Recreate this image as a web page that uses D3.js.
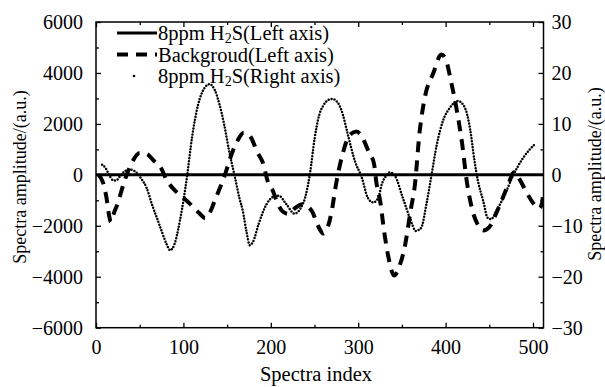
<!DOCTYPE html>
<html>
<head>
<meta charset="utf-8">
<script src="https://cdn.jsdelivr.net/npm/d3@7"></script>
<style>
  body { margin: 0; background: #fff; }
  svg text { font-family: "Liberation Serif", "Times New Roman", serif; fill: #000; }
</style>
</head>
<body>
<div id="chart"></div>
<script>
// Axis ranges and tick labels
const xDomain = [0, 512];
const xTicks = [0, 100, 200, 300, 400, 500];
const xMinor = [50, 150, 250, 350, 450];
const leftDomain = [-6000, 6000];
const leftTicks = [-6000, -4000, -2000, 0, 2000, 4000, 6000];
const leftMinor = [-5000, -3000, -1000, 1000, 3000, 5000];
const rightDomain = [-30, 30];
const rightTicks = [-30, -20, -10, 0, 10, 20, 30];
const rightMinor = [-25, -15, -5, 5, 15, 25];

// 8ppm H2S, left axis  [index, amplitude]
const h2sLeft = [[0, 0], [128, 0], [256, 0], [384, 0], [512, 0]];

// Background, left axis  [index, amplitude]
const background = [
  [3, 0], [8, -300], [12, -900], [15, -1600], [17, -1850], [20, -1550], [25, -1100],
  [32, -300], [40, 400], [50, 860], [58, 820], [66, 560], [75, 230], [80, -150],
  [90, -600], [100, -900], [110, -1220], [118, -1500], [125, -1700], [130, -1500],
  [136, -1000], [142, -500], [148, 50], [154, 700], [162, 1350], [169, 1650], [176, 1530],
  [185, 860], [191, 470], [197, -310], [202, -600], [208, -1140], [214, -1450],
  [220, -1530], [228, -1300], [236, -1150], [247, -1420], [254, -2000], [260, -2300],
  [264, -2150], [269, -1550], [275, -300], [282, 800], [290, 1550], [298, 1700],
  [305, 1450], [312, 900], [318, 450], [321, -350], [325, -1000], [330, -2300],
  [335, -3300], [341, -3950], [347, -3600], [353, -2870], [360, -1400], [365, -350],
  [370, 1600], [376, 3000], [386, 4000], [395, 4720], [400, 4550], [406, 3700],
  [413, 2500], [419, 1200], [424, -200], [430, -1300], [436, -1900], [443, -2180],
  [450, -2050], [458, -1500], [466, -850], [473, -250], [478, 100], [485, -200],
  [492, -650], [500, -1100], [507, -1320], [510, -1150], [512, -600]
];

// 8ppm H2S, right axis  [index, amplitude]
const h2sRight = [
  [7, 2.0], [11, 1.3], [15, 0.0], [19, -1.0], [23, -1.1], [28, -0.2], [34, 0.8],
  [40, 1.0], [46, 0.5], [52, -0.8], [58, -2.6], [64, -5.8], [70, -8.6], [75, -11.0],
  [80, -13.3], [85, -14.8], [90, -13.5], [96, -9.0], [104, -0.5], [110, 7.5],
  [117, 13.9], [124, 17.0], [130, 17.8], [136, 16.6], [141, 14.0], [146, 10.4],
  [153, 4.1], [159, -0.5], [164, -4.5], [168, -7.1], [172, -11.0], [176, -13.8],
  [180, -13.0], [186, -9.7], [195, -5.8], [202, -4.4], [209, -4.1], [218, -5.8],
  [227, -7.6], [235, -6.3], [240, -4.0], [245, 0.5], [250, 7.0], [255, 11.5],
  [260, 13.6], [266, 14.7], [270, 14.9], [276, 14.3], [281, 12.6], [288, 8.0],
  [296, 2.8], [304, -0.5], [311, -4.5], [317, -5.4], [323, -4.5], [327, -1.8],
  [332, -0.2], [336, 0.5], [342, -0.2], [351, -4.5], [359, -8.4], [366, -11.0],
  [372, -10.4], [378, -5.8], [384, 0.1], [390, 6.0], [397, 10.6], [405, 13.2],
  [414, 14.5], [422, 13.2], [428, 9.0], [433, 2.8], [437, -1.2], [443, -5.1],
  [448, -8.4], [452, -8.7], [458, -7.1], [468, -3.8], [477, -0.2], [489, 3.4], [502, 6.0]
];

// Dimensions
const margin = {top: 22, right: 61.5, bottom: 59.3, left: 96},
    fullWidth = 605, fullHeight = 387,
    width = fullWidth - margin.left - margin.right,
    height = fullHeight - margin.top - margin.bottom;

const svg = d3.select('#chart')
    .append('svg')
    .attr('width', fullWidth)
    .attr('height', fullHeight);

svg.append('rect').attr('width', fullWidth).attr('height', fullHeight).attr('fill', '#fff');

const g = svg.append('g')
    .attr('transform', `translate(${margin.left}, ${margin.top})`);

// Scales
const xScale = d3.scaleLinear().domain(xDomain).range([0, width]);
const yLeft = d3.scaleLinear().domain(leftDomain).range([height, 0]);
const yRight = d3.scaleLinear().domain(rightDomain).range([height, 0]);

const fontSize = 20;
const majorLen = 5, minorLen = 3;
const fmt = d3.format('d');

// Axes (ticks point inward)
function styleAxis(sel) {
    sel.select('.domain').remove();
    sel.selectAll('line').attr('stroke', '#000').attr('stroke-width', 1.3);
    sel.selectAll('text').style('font-size', fontSize + 'px').attr('fill', '#000');
}

g.append('g').call(d3.axisLeft(yLeft).tickValues(leftTicks).tickFormat(fmt).tickSize(-majorLen).tickPadding(13)).call(styleAxis);
g.append('g').call(d3.axisLeft(yLeft).tickValues(leftMinor).tickSize(-minorLen).tickFormat('')).call(styleAxis);

g.append('g').attr('transform', `translate(${width},0)`)
    .call(d3.axisRight(yRight).tickValues(rightTicks).tickFormat(fmt).tickSize(-majorLen).tickPadding(8)).call(styleAxis);
g.append('g').attr('transform', `translate(${width},0)`)
    .call(d3.axisRight(yRight).tickValues(rightMinor).tickSize(-minorLen).tickFormat('')).call(styleAxis);

g.append('g').attr('transform', `translate(0,${height})`)
    .call(d3.axisBottom(xScale).tickValues(xTicks).tickFormat(fmt).tickSize(-majorLen).tickPadding(12)).call(styleAxis);
g.append('g').attr('transform', `translate(0,${height})`)
    .call(d3.axisBottom(xScale).tickValues(xMinor).tickSize(-minorLen).tickFormat('')).call(styleAxis);

g.append('g')
    .call(d3.axisTop(xScale).tickValues(xTicks).tickSize(-majorLen).tickFormat('')).call(styleAxis);
g.append('g')
    .call(d3.axisTop(xScale).tickValues(xMinor).tickSize(-minorLen).tickFormat('')).call(styleAxis);

// Frame
g.append('rect')
    .attr('width', width).attr('height', height)
    .attr('fill', 'none').attr('stroke', '#000').attr('stroke-width', 1.5);

// Lines
g.append('clipPath').attr('id', 'plot-clip')
    .append('rect').attr('width', width).attr('height', height);

const plot = g.append('g').attr('clip-path', 'url(#plot-clip)');

const lineLeft = d3.line()
    .x(d => xScale(d[0]))
    .y(d => yLeft(d[1]))
    .curve(d3.curveMonotoneX);

const lineRight = d3.line()
    .x(d => xScale(d[0]))
    .y(d => yRight(d[1]))
    .curve(d3.curveMonotoneX);

plot.append('path')
    .datum(background)
    .attr('d', lineLeft)
    .attr('fill', 'none')
    .attr('stroke', '#000')
    .attr('stroke-width', 4)
    .attr('stroke-dasharray', '11,8');

plot.append('path')
    .datum(h2sRight)
    .attr('d', lineRight)
    .attr('fill', 'none')
    .attr('stroke', '#000')
    .attr('stroke-width', 2.5)
    .attr('stroke-linecap', 'round')
    .attr('stroke-dasharray', '0,3');

plot.append('path')
    .datum(h2sLeft)
    .attr('d', lineLeft)
    .attr('fill', 'none')
    .attr('stroke', '#000')
    .attr('stroke-width', 3);

// Legend
const legend = g.append('g').attr('transform', 'translate(21, 11)');
const legendRows = [
    {pre: '8ppm H', post: 'S(Left axis)', type: 'solid'},
    {pre: 'Backgroud(Left axis)', post: null, type: 'dash'},
    {pre: '8ppm H', post: 'S(Right axis)', type: 'dot'}
];
const rowGap = 21.5;
legendRows.forEach((r, i) => {
    const y = i * rowGap;
    if (r.type === 'solid') {
        legend.append('line').attr('x1', 0).attr('x2', 40).attr('y1', y).attr('y2', y)
            .attr('stroke', '#000').attr('stroke-width', 3);
    } else if (r.type === 'dash') {
        legend.append('line').attr('x1', 0).attr('x2', 40).attr('y1', y).attr('y2', y)
            .attr('stroke', '#000').attr('stroke-width', 4).attr('stroke-dasharray', '11,8');
    } else {
        legend.append('circle').attr('cx', 17).attr('cy', y).attr('r', 1.3).attr('fill', '#000');
    }
    const t = legend.append('text').attr('x', 41).attr('y', y + 7).style('font-size', '20.5px');
    t.append('tspan').text(r.pre);
    if (r.post) {
        t.append('tspan').text('2').style('font-size', '14px').attr('dy', 3);
        t.append('tspan').text(r.post).attr('dy', -3);
    }
});

// Axis titles
svg.append('text')
    .attr('transform', `translate(26, ${margin.top + 155}) rotate(-90)`)
    .attr('text-anchor', 'middle')
    .style('font-size', '18px')
    .text('Spectra amplitude/(a.u.)');

svg.append('text')
    .attr('transform', `translate(${fullWidth - 4}, ${margin.top + 152}) rotate(-90)`)
    .attr('text-anchor', 'middle')
    .style('font-size', '18px')
    .text('Spectra amplitude/(a.u.)');

svg.append('text')
    .attr('x', 316)
    .attr('y', 381)
    .attr('text-anchor', 'middle')
    .style('font-size', '20.5px')
    .text('Spectra index');
</script>
</body>
</html>
